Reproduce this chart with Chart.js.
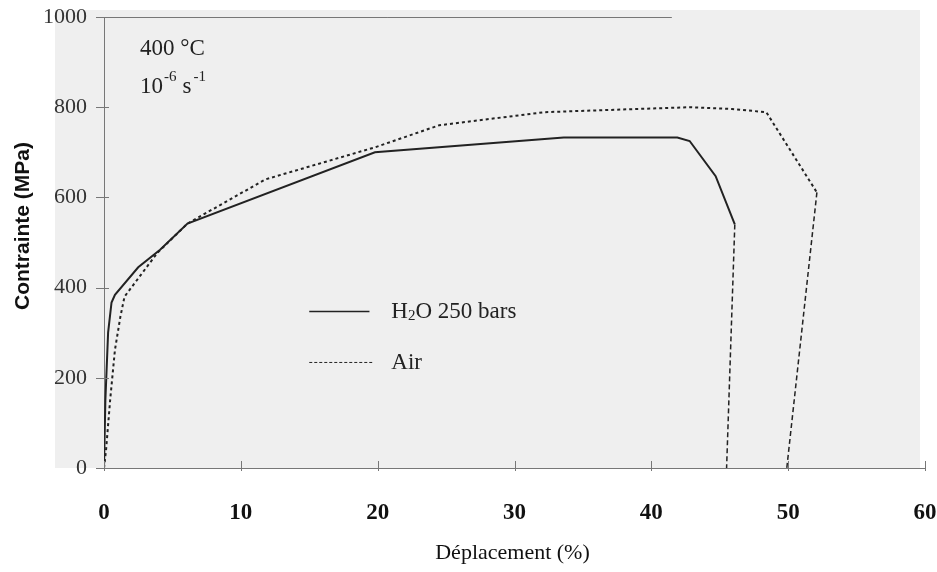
<!DOCTYPE html>
<html>
<head>
<meta charset="utf-8">
<script src="https://cdn.jsdelivr.net/npm/chart.js@4.4.0/dist/chart.umd.min.js"></script>
<style>
body{margin:0;background:#fff;}
canvas{display:block;}
</style>
</head>
<body>
<canvas id="chart" width="937" height="572"></canvas>
<script>
// courbe sous H2O 250 bars (trait plein, rupture en tirets)
const h2oX=[0,0.1,0.3,0.55,0.8,2.5,4.1,6.1,19.8,33.6,41.9,42.8,44.7,46.1,45.5];
const h2oY=[0,150,300,367,384,445,484,542,700,733,733,725,647,540,0];
// courbe sous air (pointillés)
const airX=[0,0.15,0.45,0.8,1.2,1.5,3.9,6.1,11.8,19.8,24.5,32.2,42.8,45.9,48.4,52.1,49.9];
const airY=[0,40,151,262,336,380,477,542,640,711,760,789,800,796,789,611,0];
const xTicks=[0,10,20,30,40,50,60];
const yTicks=[0,200,400,600,800,1000];
const seriesNames=["H2O 250 bars","Air"];

const serif="'Liberation Serif','Times New Roman',serif";
const sans="'Liberation Sans',Arial,sans-serif";

function toPoints(xs,ys){
  return xs.map((x,i)=>({x:x,y:ys[i]}));
}

const decorPlugin={
  id:'decor',
  beforeDraw(chart){
    const ctx=chart.ctx, a=chart.chartArea;
    ctx.save();
    ctx.fillStyle='#efefef';
    ctx.fillRect(55,10,a.right-5-55,a.bottom-10);
    ctx.restore();
  },
  afterDraw(chart){
    const ctx=chart.ctx, a=chart.chartArea;
    const sx=chart.scales.x, sy=chart.scales.y;
    ctx.save();
    // petits traits de graduation qui croisent les axes
    ctx.strokeStyle='#777';
    ctx.lineWidth=1;
    xTicks.forEach(v=>{
      const px=Math.round(sx.getPixelForValue(v))+0.5;
      ctx.beginPath();ctx.moveTo(px,a.bottom-7);ctx.lineTo(px,a.bottom+3);ctx.stroke();
    });
    yTicks.forEach(v=>{
      const py=Math.round(sy.getPixelForValue(v))+0.5;
      ctx.beginPath();ctx.moveTo(a.left-8,py);ctx.lineTo(a.left+5,py);ctx.stroke();
    });
    // bord haut partiel (scan)
    const ty=Math.round(sy.getPixelForValue(1000))+0.5;
    ctx.beginPath();ctx.moveTo(a.left,ty);ctx.lineTo(sx.getPixelForValue(41.5),ty);ctx.stroke();

    // légende
    ctx.fillStyle='#222';
    ctx.font='23px '+serif;
    ctx.textBaseline='middle';
    const lx1=sx.getPixelForValue(15.0), lx2=sx.getPixelForValue(19.4);
    const ly1=sy.getPixelForValue(347), ly2=sy.getPixelForValue(234);
    ctx.strokeStyle='#222';
    ctx.lineWidth=1.6;
    ctx.setLineDash([]);
    ctx.beginPath();ctx.moveTo(lx1,ly1);ctx.lineTo(lx2,ly1);ctx.stroke();
    ctx.lineWidth=1;
    ctx.setLineDash([3,2]);
    ctx.beginPath();ctx.moveTo(lx1,ly2);ctx.lineTo(sx.getPixelForValue(19.6),ly2);ctx.stroke();
    ctx.setLineDash([]);
    const tx=sx.getPixelForValue(21.0);
    ctx.textAlign='left';
    ctx.fillText('H',tx,ly1);
    let w=ctx.measureText('H').width;
    ctx.font='15px '+serif;
    ctx.fillText('2',tx+w,ly1+5);
    w+=ctx.measureText('2').width;
    ctx.font='23px '+serif;
    ctx.fillText('O 250 bars',tx+w,ly1);
    ctx.fillText(seriesNames[1],tx,ly2);

    // conditions d'essai
    const ax=a.left+36;
    ctx.fillText('400 °C',ax,49);
    ctx.fillText('10',ax,87);
    w=ctx.measureText('10').width;
    ctx.font='15px '+serif;
    ctx.fillText('-6',ax+w+1,77);
    w+=ctx.measureText('-6').width+7;
    ctx.font='23px '+serif;
    ctx.fillText('s',ax+w,87);
    w+=ctx.measureText('s').width+2;
    ctx.font='15px '+serif;
    ctx.fillText('-1',ax+w,77);

    // titres des axes
    ctx.fillStyle='#111';
    ctx.font='22px '+serif;
    ctx.textAlign='center';
    ctx.fillText('Déplacement (%)',(a.left+a.right)/2-2,553);
    ctx.translate(23,226);
    ctx.rotate(-Math.PI/2);
    ctx.font='bold 21px '+sans;
    ctx.fillText('Contrainte (MPa)',0,0);
    ctx.restore();
  }
};

const lastH2o=h2oX.length-1;
const lastAir=airX.length-1;

new Chart(document.getElementById('chart').getContext('2d'),{
  type:'line',
  data:{
    datasets:[
      {
        label:seriesNames[0],
        data:toPoints(h2oX,h2oY),
        borderColor:'#222',
        borderWidth:2,
        pointRadius:0,
        tension:0,
        segment:{
          borderDash:ctx=>ctx.p1DataIndex===lastH2o?[5,3]:undefined,
          borderWidth:ctx=>ctx.p1DataIndex===lastH2o?1.5:undefined
        }
      },
      {
        label:seriesNames[1],
        data:toPoints(airX,airY),
        borderColor:'#222',
        borderWidth:2,
        borderDash:[3,3],
        pointRadius:0,
        tension:0,
        segment:{
          borderDash:ctx=>ctx.p1DataIndex===lastAir?[5,3]:undefined,
          borderWidth:ctx=>ctx.p1DataIndex===lastAir?1.5:undefined
        }
      }
    ]
  },
  options:{
    responsive:false,
    animation:false,
    events:[],
    layout:{padding:{left:0,right:12,top:17,bottom:0}},
    plugins:{legend:{display:false},tooltip:{enabled:false}},
    scales:{
      x:{
        type:'linear',
        min:0,max:60,
        afterBuildTicks:s=>{s.ticks=xTicks.map(v=>({value:v}));},
        afterFit:s=>{s.height=104;s.paddingLeft=0;s.paddingRight=0;},
        grid:{drawOnChartArea:false,drawTicks:false},
        border:{display:true,color:'#777',width:1},
        ticks:{
          padding:31,
          color:'#111',
          font:{family:serif,size:23,weight:'bold'},
          callback:v=>String(v)
        }
      },
      y:{
        min:0,max:1000,
        afterBuildTicks:s=>{s.ticks=yTicks.map(v=>({value:v}));},
        afterFit:s=>{s.width=104;s.paddingTop=0;s.paddingBottom=0;},
        grid:{drawOnChartArea:false,drawTicks:false},
        border:{display:true,color:'#777',width:1},
        ticks:{
          padding:17,
          color:'#333',
          font:{family:serif,size:22},
          callback:v=>String(v)
        }
      }
    }
  },
  plugins:[decorPlugin]
});
</script>
</body>
</html>
